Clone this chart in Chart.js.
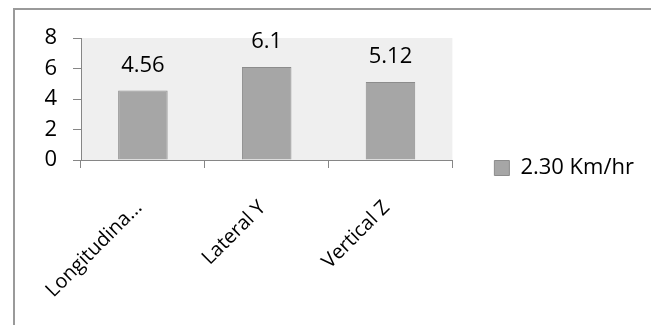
<!DOCTYPE html>
<html>
<head>
<meta charset="utf-8">
<script src="https://cdn.jsdelivr.net/npm/chart.js@4/dist/chart.umd.min.js"></script>
<style>
  html, body { margin: 0; padding: 0; background: #fff; }
  #wrap { width: 651px; height: 325px; position: relative; }
</style>
</head>
<body>
<div id="wrap"><canvas id="vibChart"></canvas></div>
<script>
// data
const categories = ['Longitudinal X', 'Lateral Y', 'Vertical Z'];
const seriesName = '2.30 Km/hr';
const seriesValues = [4.56, 6.1, 5.12];
const yTicks = [0, 2, 4, 6, 8];

const FONT = '"Open Sans", "Noto Sans", sans-serif';

// frame (left + top edge) and the grey plot background
const framePlugin = {
  id: 'frame',
  beforeDraw(chart) {
    const c = chart.ctx;
    const a = chart.chartArea;
    c.save();
    c.fillStyle = '#efefef';
    c.fillRect(a.left, a.top, a.right - a.left, a.bottom - a.top);
    c.strokeStyle = '#9a9a9a';
    c.lineWidth = 2;
    c.beginPath();
    c.moveTo(14, chart.height);
    c.lineTo(14, 9);
    c.lineTo(chart.width, 9);
    c.stroke();
    c.restore();
  }
};

// value labels above the bars
const valueLabels = {
  id: 'valueLabels',
  afterDatasetsDraw(chart) {
    const c = chart.ctx;
    const meta = chart.getDatasetMeta(0);
    c.save();
    c.font = '22px ' + FONT;
    c.fillStyle = '#000';
    c.textAlign = 'center';
    c.textBaseline = 'middle';
    meta.data.forEach((bar, i) => {
      c.fillText(String(seriesValues[i]), bar.x, bar.y - 25);
    });
    c.restore();
  }
};

const ctx = document.getElementById('vibChart').getContext('2d');

new Chart(ctx, {
  type: 'bar',
  data: {
    labels: categories,
    datasets: [{
      label: seriesName,
      data: seriesValues,
      backgroundColor: '#a6a6a6',
      borderColor: '#8c8c8c',
      borderWidth: 1,
      barPercentage: 0.4,
      categoryPercentage: 1.0,
    }]
  },
  options: {
    responsive: true,
    maintainAspectRatio: false,
    animation: false,
    layout: {
      padding: { top: 38, bottom: 27, left: 0, right: 7 }
    },
    scales: {
      x: {
        grid: {
          drawOnChartArea: false,
          tickLength: 8,
          color: '#868686',
        },
        border: { color: '#868686' },
        ticks: {
          color: '#000',
          font: { family: FONT, size: 20 },
          minRotation: 45,
          maxRotation: 45,
          padding: 28,
          labelOffset: -4,
          autoSkip: false,
          callback(value) {
            const s = this.getLabelForValue(value);
            return s.length > 11 ? s.slice(0, 11) + '...' : s;
          }
        },
        afterFit(scale) { scale.height = 138; }
      },
      y: {
        min: 0,
        max: 8,
        afterBuildTicks(scale) { scale.ticks = yTicks.map(v => ({ value: v })); },
        grid: {
          drawOnChartArea: false,
          tickLength: 8,
          color: '#868686',
        },
        border: { color: '#868686' },
        ticks: {
          color: '#000',
          font: { family: FONT, size: 22 },
          padding: 16,
        },
        afterFit(scale) { scale.width = 81; }
      }
    },
    plugins: {
      legend: {
        position: 'right',
        maxWidth: 200,
        labels: {
          color: '#000',
          font: { family: FONT, size: 22 },
          boxWidth: 15,
          boxHeight: 15,
          padding: 42,
        }
      },
      tooltip: { enabled: false }
    }
  },
  plugins: [framePlugin, valueLabels]
});
</script>
</body>
</html>
